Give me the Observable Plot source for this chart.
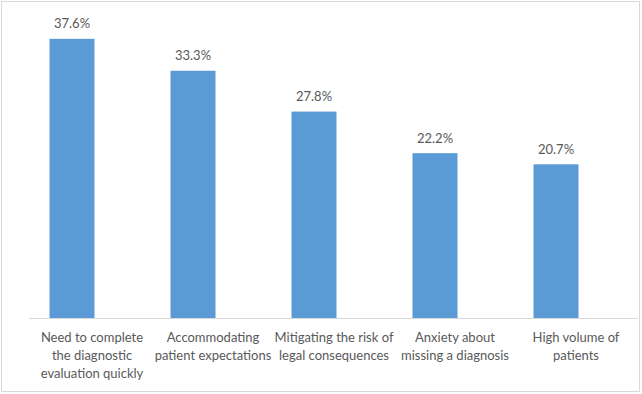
<!DOCTYPE html>
<html>
<head>
<meta charset="utf-8">
<script src="https://cdn.jsdelivr.net/npm/d3@7"></script>
<script src="https://cdn.jsdelivr.net/npm/@observablehq/plot@0.6"></script>
<style>
  html, body { margin: 0; padding: 0; background: #fff; }
  #wrap { position: relative; width: 642px; height: 394px; }
  #border { position: absolute; left: 1px; top: 1px; width: 637px; height: 389px; border: 1px solid #d9d9d9; pointer-events: none; }
  #chart { position: absolute; left: 0; top: 0; }
</style>
</head>
<body>
<div id="wrap"><div id="chart"></div><div id="border"></div></div>
<script>
// Reasons given, share of respondents (%)
const categories = [
  "Need to complete\nthe diagnostic\nevaluation quickly",
  "Accommodating\npatient expectations",
  "Mitigating the risk of\nlegal consequences",
  "Anxiety about\nmissing a diagnosis",
  "High volume of\npatients"
];
const values = [37.6, 33.3, 27.8, 22.2, 20.7];

const data = categories.map((c, i) => ({category: c, value: values[i]}));

// Each bar sits in the left part of its category slot; the slot centre carries the label
const barShift = -20;

const chart = Plot.plot({
  width: 642,
  height: 394,
  marginLeft: 29,
  marginRight: 4,
  marginTop: 21,
  marginBottom: 76,
  style: {fontFamily: "Lato, sans-serif", fontSize: "13px", color: "#595959", background: "transparent"},
  x: {domain: categories, padding: 0, label: null},
  y: {domain: [0, 40], axis: null},
  marks: [
    Plot.barY(data, {x: "category", y: "value", fill: "#5b9bd5", insetLeft: 18.5, insetRight: 57.5}),
    Plot.ruleY([0], {stroke: "#d9d9d9", strokeWidth: 1}),
    Plot.text(data, {
      x: "category", y: "value", dy: -15, dx: barShift,
      text: d => `${d.value.toFixed(1)}%`,
      fill: "#595959", fontSize: 13
    }),
    Plot.axisX({tickSize: 0, tickPadding: 11, fontSize: 13, lineHeight: 1.37, fill: "#595959", label: null})
  ]
});
document.getElementById("chart").append(chart);
</script>
</body>
</html>
